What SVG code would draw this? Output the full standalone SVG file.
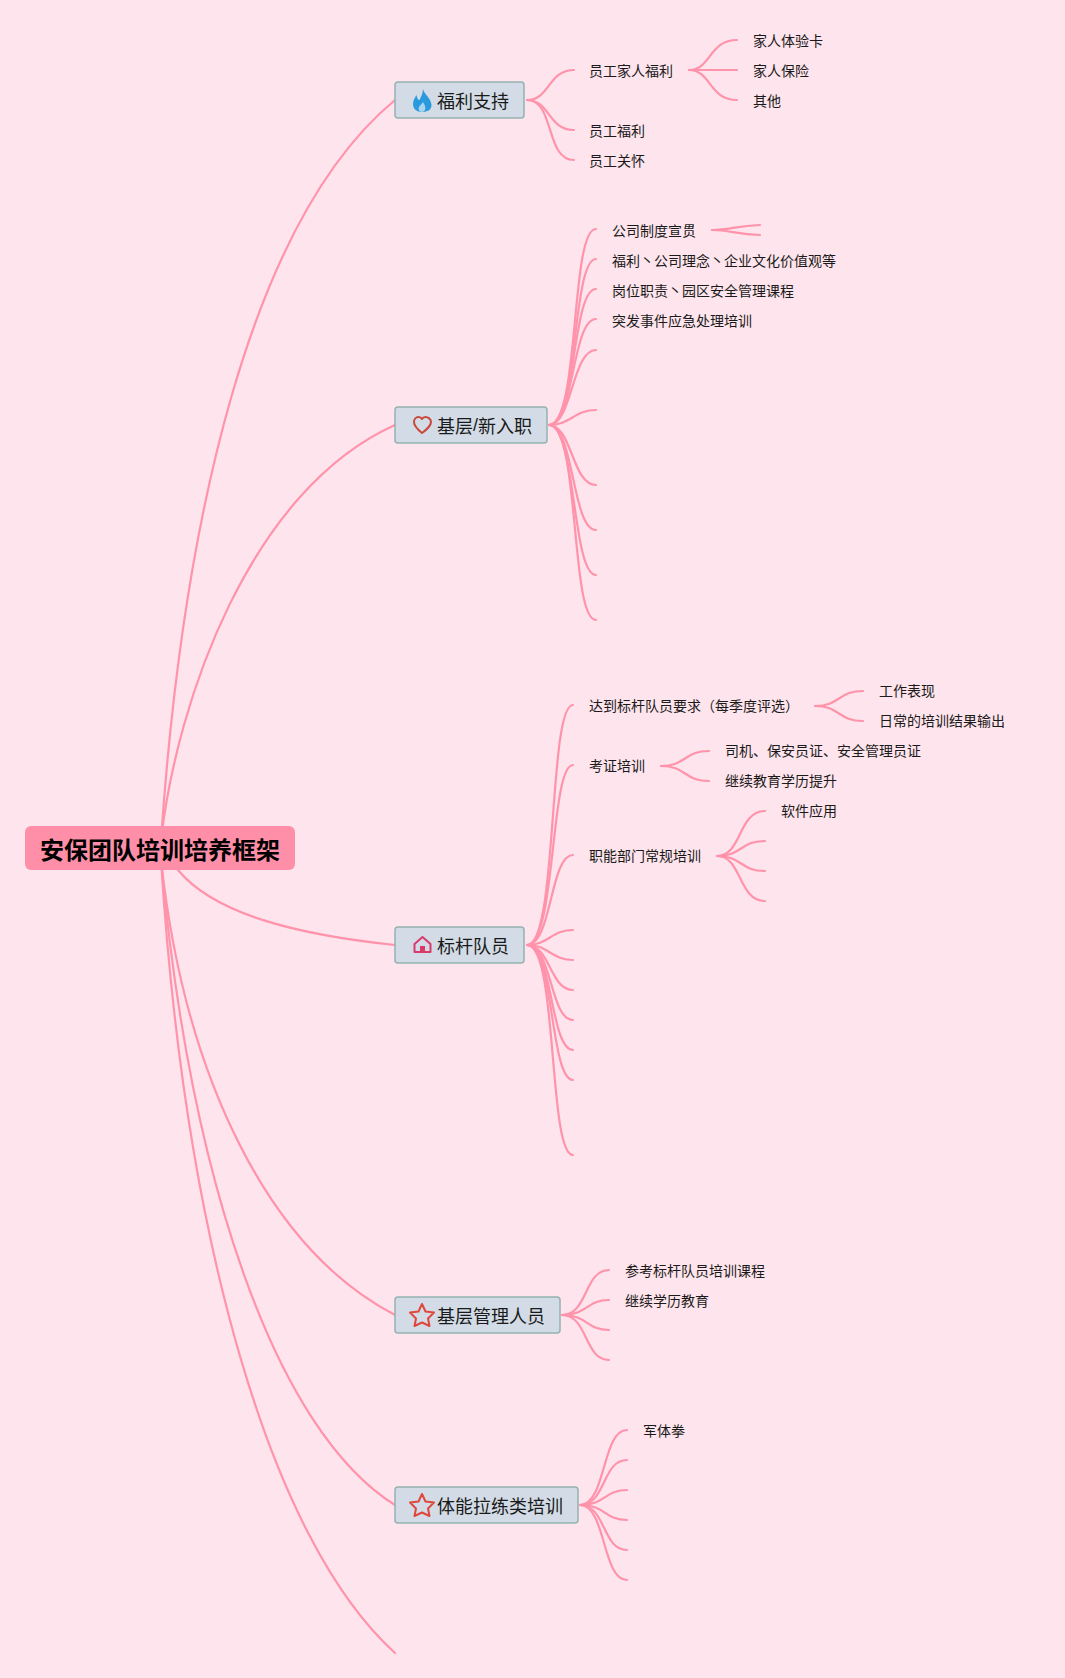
<svg xmlns="http://www.w3.org/2000/svg" width="1065" height="1678" viewBox="0 0 1065 1678">
<style>
text{font-family:"Noto Sans CJK SC","Noto Sans",sans-serif;fill:#1a1a1a;dominant-baseline:central}
.t{font-size:14px}
.m{font-size:18px}
.r{font-size:24px;font-weight:700;fill:#000;text-anchor:middle}
.n{fill:#d3dce6;stroke:#94b3b1;stroke-width:1.5}
#connectors path{fill:none;stroke:#ff93ab;stroke-width:2.200;stroke-linecap:round}
.ic{fill:none;stroke-width:2;stroke-linejoin:round}
</style>
<rect width="1065" height="1678" fill="#fee4ec"/>
<g id="connectors">
<path d="M161 840C183 520 250 220 395 100"/>
<path d="M161 840C177 700 250 490 395 425"/>
<path d="M178 870C215 915 300 935 395 945"/>
<path d="M161 860C185 1080 270 1250 395 1315"/>
<path d="M161 860C190 1180 275 1430 395 1505"/>
<path d="M161 860C185 1240 270 1540 395 1653"/>
<path d="M527 100C550 100 548 70 574 70"/>
<path d="M527 100C550 100 548 130 574 130"/>
<path d="M527 100C555 100 545 160 574 160"/>
<path d="M689 70C711 70 709 40 737 40"/>
<path d="M689 70H737"/>
<path d="M689 70C711 70 709 100 737 100"/>
<path d="M549 425C580 425 570 229 596 229"/>
<path d="M549 425C578 425 572 259 596 259"/>
<path d="M549 425C576 425 572 289 596 289"/>
<path d="M549 425C574 425 572 319 596 319"/>
<path d="M549 425C572 425 572 350 596 350"/>
<path d="M549 425C570 425 575 410 596 410"/>
<path d="M549 425C572 425 572 485 596 485"/>
<path d="M549 425C574 425 572 530 596 530"/>
<path d="M549 425C576 425 572 575 596 575"/>
<path d="M549 425C580 425 570 620 596 620"/>
<path d="M712 230C730 230 735 226 760 225"/>
<path d="M712 230C730 230 735 234 760 235"/>
<path d="M527 945C558 945 548 705 573 705"/>
<path d="M527 945C556 945 550 765 573 765"/>
<path d="M527 945C552 945 550 855 573 855"/>
<path d="M527 945C548 945 552 930 573 930"/>
<path d="M527 945C548 945 552 960 573 960"/>
<path d="M527 945C550 945 550 990 573 990"/>
<path d="M527 945C552 945 550 1020 573 1020"/>
<path d="M527 945C553 945 550 1050 573 1050"/>
<path d="M527 945C554 945 550 1080 573 1080"/>
<path d="M527 945C558 945 548 1155 573 1155"/>
<path d="M815 706C840 706 838 691 863 691"/>
<path d="M815 706C840 706 838 721 863 721"/>
<path d="M661 766C686 766 684 751 709 751"/>
<path d="M661 766C686 766 684 781 709 781"/>
<path d="M717 856C742 856 738 811 765 811"/>
<path d="M717 856C742 856 740 841 765 841"/>
<path d="M717 856C742 856 740 871 765 871"/>
<path d="M717 856C742 856 738 901 765 901"/>
<path d="M562 1315C588 1315 584 1270 609 1270"/>
<path d="M562 1315C588 1315 586 1300 609 1300"/>
<path d="M562 1315C588 1315 586 1330 609 1330"/>
<path d="M562 1315C588 1315 584 1360 609 1360"/>
<path d="M580 1505C606 1505 602 1430 627 1430"/>
<path d="M580 1505C606 1505 602 1460 627 1460"/>
<path d="M580 1505C606 1505 604 1490 627 1490"/>
<path d="M580 1505C606 1505 604 1520 627 1520"/>
<path d="M580 1505C606 1505 602 1550 627 1550"/>
<path d="M580 1505C606 1505 602 1580 627 1580"/>
</g>
<g id="root"><rect x="25" y="826" width="270" height="44" rx="6" fill="#ff8fa8"/><text class="r" x="160" y="848">安保团队培训培养框架</text></g>
<g id="n1"><rect class="n" x="395" y="82" width="129" height="36" rx="3"/>
<path d="M423 89C424 94 431 98 431.500 105C431.500 110 427 112 422 112C417 112 413 109 413 104C413 100 415 98 416.500 95C417 98 418 100 419.500 100C421 97 423 93 423 89Z" fill="#2a9ade"/>
<path d="M422 112C419 112 418 109 419 107C420 105 422 104 423 102C425 105 426 108 425 110C424.500 111 423 112 422 112Z" fill="#a9d3ee"/>
<text class="m" x="437" y="99.500">福利支持</text></g>
<g id="n2"><rect class="n" x="395" y="407" width="152" height="36" rx="3"/>
<path class="ic" stroke="#c8483c" d="M422 433C417 429 414 426 414 422C414 419 416 417 418.500 417C420 417 421.500 418 422 419C422.500 418 424 417 425.500 417C428 417 431 419 431 422C431 426 427 429 422 433Z"/>
<text class="m" x="437" y="424.500">基层<tspan font-family="Liberation Sans">/</tspan>新入职</text></g>
<g id="n3"><rect class="n" x="395" y="927" width="129" height="36" rx="3"/>
<path class="ic" stroke="#d93a6a" d="M414.500 952V944L422.500 937L430.500 944V952Z"/>
<rect x="420" y="946" width="5" height="7" fill="#d93a6a"/>
<text class="m" x="437" y="944.500">标杆队员</text></g>
<g id="n4"><rect class="n" x="395" y="1297" width="165" height="36" rx="3"/>
<path class="ic" stroke="#e0473c" d="M422 1304L425.500 1311.500L434 1312.500L428 1318.500L429.500 1326L422 1322.500L414.500 1326L416 1318.500L410 1312.500L418.500 1311.500Z"/>
<text class="m" x="437" y="1314.500">基层管理人员</text></g>
<g id="n5"><rect class="n" x="395" y="1487" width="183" height="36" rx="3"/>
<path class="ic" stroke="#e0473c" d="M422 1494L425.500 1501.500L434 1502.500L428 1508.500L429.500 1516L422 1512.500L414.500 1516L416 1508.500L410 1502.500L418.500 1501.500Z"/>
<text class="m" x="437" y="1504.500">体能拉练类培训</text></g>
<g id="labels">
<text class="t" x="589" y="70">员工家人福利</text>
<text class="t" x="589" y="130">员工福利</text>
<text class="t" x="589" y="160">员工关怀</text>
<text class="t" x="753" y="40">家人体验卡</text>
<text class="t" x="753" y="70">家人保险</text>
<text class="t" x="753" y="100">其他</text>
<text class="t" x="612" y="230">公司制度宣贯</text>
<text class="t" x="612" y="260">福利丶公司理念丶企业文化价值观等</text>
<text class="t" x="612" y="290">岗位职责丶园区安全管理课程</text>
<text class="t" x="612" y="320">突发事件应急处理培训</text>
<text class="t" x="589" y="705">达到标杆队员要求（每季度评选）</text>
<text class="t" x="879" y="690">工作表现</text>
<text class="t" x="879" y="720">日常的培训结果输出</text>
<text class="t" x="589" y="765">考证培训</text>
<text class="t" x="725" y="750">司机、保安员证、安全管理员证</text>
<text class="t" x="725" y="780">继续教育学历提升</text>
<text class="t" x="589" y="855">职能部门常规培训</text>
<text class="t" x="781" y="810">软件应用</text>
<text class="t" x="625" y="1270">参考标杆队员培训课程</text>
<text class="t" x="625" y="1300">继续学历教育</text>
<text class="t" x="643" y="1430">军体拳</text>
</g>
</svg>
